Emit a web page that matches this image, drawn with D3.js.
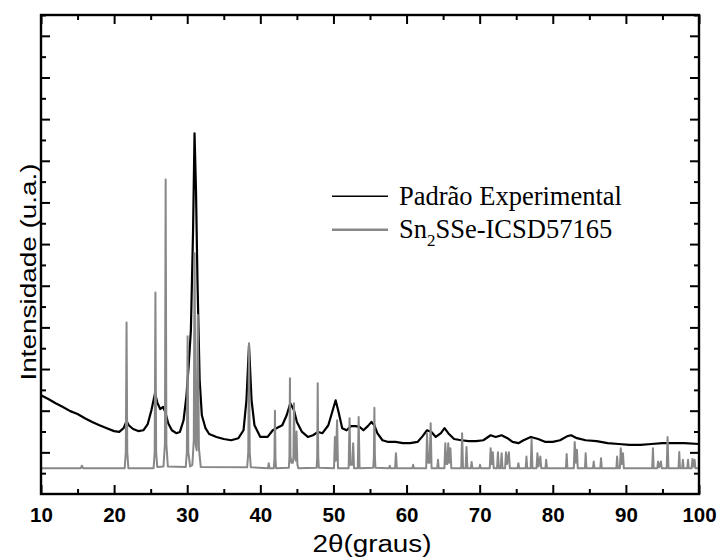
<!DOCTYPE html>
<html>
<head>
<meta charset="utf-8">
<script src="https://cdn.jsdelivr.net/npm/d3@7"></script>
<style>
  body { margin: 0; background: #fff; }
  svg { display: block; }
</style>
</head>
<body>
<div id="chart"></div>
<script>
// 2theta ticks (labelled) and minor ticks
const xMajor = [10, 20, 30, 40, 50, 60, 70, 80, 90, 100];
const xMinor = [15, 25, 35, 45, 55, 65, 75, 85, 95];
const yMajor = [1, 2, 3, 4, 5, 6, 7, 8, 9, 10, 11];
const yMinor = [0.5, 1.5, 2.5, 3.5, 4.5, 5.5, 6.5, 7.5, 8.5, 9.5, 10.5, 11.5];

const legendLabels = ["Padrão Experimental", "Sn2SSe-ICSD57165"];

// experimental pattern [2theta, intensity a.u.]
const experimental = [
  [10, 2.37], [11, 2.28], [12, 2.18], [13, 2.09], [14, 1.99], [15, 1.92], [16, 1.82],
  [17, 1.73], [18, 1.65], [19, 1.58], [20, 1.51], [20.7, 1.49], [21.3, 1.58], [21.7, 1.75],
  [22.0, 1.65], [22.6, 1.56], [23.3, 1.51], [24.0, 1.53], [24.6, 1.68], [25.1, 2.01],
  [25.6, 2.42], [25.9, 2.2], [26.3, 2.04], [26.7, 2.09], [27.0, 1.97], [27.4, 1.70],
  [27.9, 1.53], [28.5, 1.46], [29.0, 1.49], [29.5, 1.77], [29.9, 2.37], [30.2, 3.09],
  [30.5, 3.93], [30.8, 6.33], [31.0, 8.66], [31.2, 7.29], [31.4, 5.13], [31.7, 2.73],
  [32.0, 1.89], [32.5, 1.58], [33.0, 1.44], [34.0, 1.37], [35.0, 1.32], [36.0, 1.29],
  [37.0, 1.34], [37.7, 1.53], [38.1, 2.25], [38.45, 3.57], [38.8, 2.25], [39.2, 1.65],
  [40.0, 1.37], [41.0, 1.37], [41.7, 1.53], [42.2, 1.58], [43.0, 1.65], [43.6, 1.89],
  [44.1, 2.18], [44.6, 2.01], [45.0, 1.73], [45.7, 1.49], [46.5, 1.37], [47.2, 1.41],
  [47.9, 1.49], [48.5, 1.46], [49.3, 1.65], [49.9, 2.01], [50.3, 2.25], [50.7, 1.97],
  [51.2, 1.58], [51.8, 1.53], [52.4, 1.63], [53.0, 1.63], [53.6, 1.61], [54.1, 1.53],
  [54.7, 1.63], [55.2, 1.73], [55.6, 1.65], [56.0, 1.46], [56.7, 1.29], [57.5, 1.25],
  [58.5, 1.25], [59.5, 1.22], [60.5, 1.22], [61.5, 1.25], [62.2, 1.39], [62.8, 1.53],
  [63.4, 1.49], [64.0, 1.37], [64.7, 1.46], [65.2, 1.58], [65.7, 1.46], [66.5, 1.32],
  [67.5, 1.29], [68.5, 1.27], [69.5, 1.27], [70.5, 1.29], [71.5, 1.41], [72.2, 1.37],
  [73.0, 1.41], [73.8, 1.34], [74.5, 1.25], [75.3, 1.22], [76.0, 1.29], [77.0, 1.37],
  [78.0, 1.32], [79.0, 1.25], [80.0, 1.25], [81.0, 1.29], [82.0, 1.39], [82.5, 1.41],
  [83.3, 1.34], [84.5, 1.29], [86.0, 1.27], [87.5, 1.22], [89.0, 1.2], [90.5, 1.18],
  [92.0, 1.18], [93.5, 1.2], [95.0, 1.22], [96.5, 1.22], [98.0, 1.22], [100, 1.2]
];

// calculated pattern Sn2SSe (ICSD 57165) [2theta, intensity a.u.]
const calculated = [
  [10, 0.62], [15.45, 0.62], [15.6, 0.68], [15.75, 0.62],
  [21.45, 0.62], [21.6, 1.0], [21.7, 4.12], [21.8, 1.0], [21.95, 0.62],
  [25.4, 0.62], [25.55, 1.0], [25.65, 4.84], [25.75, 1.0], [25.9, 0.65],
  [26.75, 0.66], [26.95, 1.2], [27.05, 7.55], [27.15, 1.2], [27.35, 0.66],
  [29.8, 0.65], [29.95, 1.0], [30.05, 3.79], [30.15, 1.0], [30.4, 0.66],
  [30.7, 0.7], [30.9, 1.3], [31.0, 5.78], [31.15, 1.2], [31.3, 1.05], [31.45, 4.3],
  [31.6, 1.1], [31.85, 0.65],
  [38.2, 0.64], [38.35, 1.0], [38.45, 3.62], [38.55, 1.0], [38.7, 0.64],
  [41.05, 0.62], [41.15, 0.74], [41.25, 0.62],
  [41.85, 0.62], [41.93, 0.85], [42.0, 2.0], [42.07, 0.85], [42.15, 0.62],
  [43.9, 0.63], [43.98, 0.9], [44.05, 2.78], [44.12, 0.9], [44.25, 0.75],
  [44.45, 0.75], [44.53, 0.9], [44.6, 2.18], [44.7, 0.9], [44.85, 0.8],
  [44.95, 1.5], [45.07, 0.7], [45.2, 0.62],
  [47.7, 0.63], [47.78, 0.9], [47.85, 2.66], [47.92, 0.9], [48.0, 0.63],
  [50.08, 0.62], [50.2, 1.37], [50.32, 0.8], [50.5, 1.77], [50.62, 0.62],
  [52.08, 0.62], [52.2, 1.82], [52.32, 0.7], [52.58, 0.7], [52.7, 1.22], [52.82, 0.62],
  [53.33, 0.62], [53.45, 1.85], [53.57, 0.62],
  [55.45, 0.63], [55.53, 0.9], [55.6, 2.07], [55.67, 0.9], [55.75, 0.63],
  [57.6, 0.62], [57.7, 0.68], [57.8, 0.62],
  [58.43, 0.62], [58.55, 0.98], [58.67, 0.62],
  [60.8, 0.62], [60.9, 0.7], [61.0, 0.62],
  [62.68, 0.62], [62.8, 1.46], [62.95, 0.75], [63.15, 0.75], [63.3, 1.70], [63.42, 0.62],
  [64.2, 0.62], [64.3, 0.82], [64.4, 0.62],
  [65.18, 0.62], [65.3, 1.22], [65.45, 0.72], [65.58, 0.72], [65.7, 1.22], [65.83, 0.75],
  [66.0, 1.1], [66.12, 0.62],
  [67.48, 0.62], [67.6, 1.46], [67.72, 0.62],
  [68.08, 0.62], [68.2, 1.13], [68.32, 0.62],
  [68.8, 0.62], [68.9, 0.77], [69.0, 0.62],
  [69.95, 0.62], [70.05, 0.7], [70.15, 0.62],
  [71.38, 0.62], [71.5, 1.1], [71.65, 0.72], [71.8, 1.0], [71.92, 0.62],
  [72.38, 0.62], [72.5, 1.0], [72.62, 0.62],
  [72.88, 0.62], [73.0, 0.98], [73.12, 0.62],
  [73.48, 0.62], [73.6, 1.0], [73.75, 0.72], [74.0, 1.0], [74.12, 0.62],
  [75.2, 0.62], [75.3, 0.74], [75.4, 0.62],
  [76.3, 0.62], [76.4, 0.9], [76.5, 0.62],
  [76.98, 0.62], [77.1, 1.32], [77.22, 0.62],
  [77.78, 0.62], [77.9, 0.98], [78.05, 0.66], [78.3, 0.9], [78.42, 0.62],
  [79.0, 0.62], [79.1, 0.82], [79.2, 0.62],
  [81.8, 0.62], [81.9, 0.96], [82.0, 0.62],
  [82.88, 0.62], [83.0, 1.25], [83.15, 0.75], [83.3, 1.06], [83.42, 0.62],
  [84.4, 0.62], [84.5, 0.98], [84.6, 0.62],
  [85.5, 0.62], [85.6, 0.78], [85.7, 0.62],
  [86.5, 0.62], [86.6, 0.86], [86.7, 0.62],
  [88.7, 0.62], [88.8, 0.9], [88.9, 0.62],
  [89.18, 0.62], [89.3, 1.1], [89.45, 0.72], [89.6, 0.98], [89.72, 0.62],
  [93.6, 0.62], [93.7, 1.1], [93.8, 0.62],
  [94.3, 0.62], [94.4, 0.78], [94.55, 0.64], [94.8, 0.78], [94.9, 0.62],
  [95.58, 0.62], [95.7, 1.37], [95.82, 0.62],
  [97.2, 0.62], [97.3, 1.01], [97.4, 0.62],
  [97.7, 0.62], [97.8, 0.82], [97.9, 0.62],
  [98.4, 0.62], [98.5, 0.82], [98.6, 0.62],
  [99.0, 0.62], [99.1, 0.84], [99.25, 0.66], [99.4, 0.82], [99.5, 0.62],
  [100, 0.62]
];

const width = 717;
const height = 559;
const margin = { top: 15, right: 18, bottom: 65, left: 41 };
const w = width - margin.left - margin.right;
const h = height - margin.top - margin.bottom;

const svg = d3.select("#chart").append("svg")
    .attr("width", width)
    .attr("height", height);

const g = svg.append("g")
    .attr("transform", `translate(${margin.left},${margin.top})`);

const x = d3.scaleLinear().domain([10, 100]).range([0, w]);
const y = d3.scaleLinear().domain([0, 11.5]).range([h, 0]);

// curves
const line = d3.line()
    .x(d => x(d[0]))
    .y(d => y(d[1]));

g.append("path")
    .datum(experimental)
    .attr("fill", "none")
    .attr("stroke", "#000")
    .attr("stroke-width", 2.2)
    .attr("stroke-linejoin", "round")
    .attr("d", line);

g.append("path")
    .datum(calculated)
    .attr("fill", "none")
    .attr("stroke", "#888")
    .attr("stroke-width", 2)
    .attr("stroke-linejoin", "round")
    .attr("d", line);

// axes: inward ticks on all four sides
function styleAxis(sel) {
    sel.select(".domain").remove();
    sel.selectAll(".tick line").attr("stroke", "#000").attr("stroke-width", 2);
}

g.append("g")
    .attr("transform", `translate(0,${h})`)
    .call(d3.axisBottom(x).tickValues(xMajor).tickSize(-9).tickPadding(13.5).tickFormat(d3.format("d")))
    .call(styleAxis)
    .call(s => s.selectAll("text")
        .attr("fill", "#000")
        .style("font-family", "Arial, 'Liberation Sans', sans-serif")
        .style("font-weight", "bold")
        .style("font-size", "20.5px"));

g.append("g")
    .attr("transform", `translate(0,${h})`)
    .call(d3.axisBottom(x).tickValues(xMinor).tickSize(-5).tickFormat(""))
    .call(styleAxis);

g.append("g")
    .call(d3.axisTop(x).tickValues(xMajor).tickSize(-9).tickFormat(""))
    .call(styleAxis);

g.append("g")
    .call(d3.axisTop(x).tickValues(xMinor).tickSize(-5).tickFormat(""))
    .call(styleAxis);

g.append("g")
    .call(d3.axisLeft(y).tickValues(yMajor).tickSize(-9).tickFormat(""))
    .call(styleAxis);

g.append("g")
    .call(d3.axisLeft(y).tickValues(yMinor).tickSize(-5).tickFormat(""))
    .call(styleAxis);

g.append("g")
    .attr("transform", `translate(${w},0)`)
    .call(d3.axisRight(y).tickValues(yMajor).tickSize(-9).tickFormat(""))
    .call(styleAxis);

g.append("g")
    .attr("transform", `translate(${w},0)`)
    .call(d3.axisRight(y).tickValues(yMinor).tickSize(-5).tickFormat(""))
    .call(styleAxis);

// frame
g.append("rect")
    .attr("x", 0)
    .attr("y", 0)
    .attr("width", w)
    .attr("height", h)
    .attr("fill", "none")
    .attr("stroke", "#000")
    .attr("stroke-width", 2.4);

// axis titles
svg.append("text")
    .attr("x", margin.left + w / 2 + 2)
    .attr("y", 552)
    .attr("text-anchor", "middle")
    .attr("textLength", 119)
    .attr("lengthAdjust", "spacingAndGlyphs")
    .style("font-family", "Arial, 'Liberation Sans', sans-serif")
    .style("font-size", "23px")
    .text("2θ(graus)");

svg.append("text")
    .attr("transform", "translate(36,272) rotate(-90)")
    .attr("text-anchor", "middle")
    .attr("textLength", 217)
    .attr("lengthAdjust", "spacingAndGlyphs")
    .style("font-family", "Arial, 'Liberation Sans', sans-serif")
    .style("font-size", "22px")
    .text("Intensidade (u.a.)");

// legend
const legend = g.append("g")
    .attr("transform", `translate(${x(49.8)},${y(7.15)})`);

const legendColors = ["#000", "#888"];
const legendWidths = [1.5, 2.4];

legendLabels.forEach((label, i) => {
    const row = legend.append("g").attr("transform", `translate(0,${i * 33.5})`);
    row.append("line")
        .attr("x1", 0)
        .attr("x2", 56)
        .attr("y1", 0)
        .attr("y2", 0)
        .attr("stroke", legendColors[i])
        .attr("stroke-width", legendWidths[i]);
    const t = row.append("text")
        .attr("x", 67)
        .attr("y", 8.5)
        .style("font-family", "'Times New Roman', 'Liberation Serif', serif")
        .style("font-size", "26.5px")
        .attr("fill", "#000");
    if (label.startsWith("Sn2")) {
        t.append("tspan").text("Sn");
        t.append("tspan").attr("dy", 8).style("font-size", "17px").text("2");
        t.append("tspan").attr("dy", -8).text(label.slice(3));
    } else {
        t.text(label);
    }
});
</script>
</body>
</html>
